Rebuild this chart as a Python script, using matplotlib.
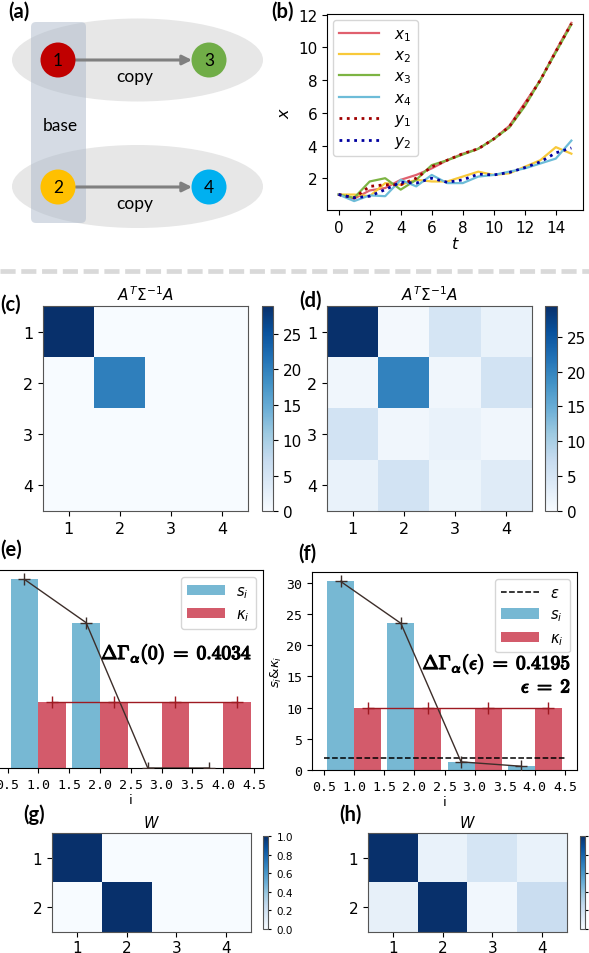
import numpy as np
import matplotlib
matplotlib.use('Agg')
import matplotlib.pyplot as plt
import matplotlib.patheffects as pe
from matplotlib.patches import Ellipse, FancyBboxPatch, Circle
from matplotlib.lines import Line2D

# ---------------- data ----------------
t = list(range(16))
x1 = [1.0, 0.75, 1.25, 1.4, 1.9, 2.2, 2.6, 3.1, 3.5, 3.8, 4.4, 5.2, 6.6, 8.0, 9.8, 11.5]
x2 = [1.0, 1.0, 0.9, 1.7, 1.6, 1.9, 1.8, 1.8, 2.1, 2.4, 2.2, 2.3, 2.7, 3.1, 3.9, 3.5]
x3 = [1.0, 0.8, 1.8, 2.0, 1.3, 1.9, 2.8, 3.1, 3.45, 3.8, 4.4, 5.1, 6.4, 8.0, 9.7, 11.4]
x4 = [1.0, 0.6, 0.95, 0.9, 1.9, 1.5, 2.2, 1.7, 1.7, 2.1, 2.2, 2.4, 2.6, 2.9, 3.2, 4.3]
y1 = [1.0, 0.8, 1.5, 1.6, 1.6, 2.0, 2.7, 3.1, 3.5, 3.8, 4.4, 5.15, 6.5, 8.0, 9.75, 11.45]
y2 = [1.0, 0.8, 0.9, 1.3, 1.75, 1.7, 2.0, 1.75, 1.9, 2.25, 2.2, 2.35, 2.65, 3.0, 3.55, 3.85]

node_labels = ['1', '2', '3', '4']
M_c = [[28.9, 0, 0, 0],
       [0, 20.0, 0, 0],
       [0, 0, 0, 0],
       [0, 0, 0, 0]]
M_d = [[29.4, 0.5, 5.0, 2.0],
       [1.0, 20.0, 1.0, 5.5],
       [5.5, 1.0, 2.0, 1.0],
       [2.0, 5.5, 1.5, 3.5]]

idx = [1, 2, 3, 4]
s_e = [30.1, 23.2, 0.0, 0.0]
k_e = [10.5, 10.5, 10.5, 10.5]
s_f = [30.2, 23.5, 1.3, 0.6]
k_f = [10.0, 10.0, 10.0, 10.0]
eps = 2
bar_xticks = [0.5, 1.0, 1.5, 2.0, 2.5, 3.0, 3.5, 4.0, 4.5]

W_g = [[1.0, 0.0, 0.0, 0.0],
       [0.0, 1.0, 0.0, 0.0]]
W_h = [[1.0, 0.07, 0.17, 0.07],
       [0.08, 1.0, 0.03, 0.23]]

# ---------------- figure ----------------
FW, FH = 589, 954
fig = plt.figure(figsize=(FW / 100, FH / 100), dpi=100)

def add_ax(x0, y0, x1_, y1_):
    return fig.add_axes([x0 / FW, 1 - y1_ / FH, (x1_ - x0) / FW, (y1_ - y0) / FH])

LBL = dict(fontsize=14.5, fontweight='bold', family=['Lato', 'DejaVu Sans'],
           ha='center', va='center')

def panel_label(x, y, s):
    fig.text(x / FW, 1 - y / FH, s, **LBL)

# ---------------- (a) ----------------
axa = add_ax(0, 0, 290, 250)
axa.set_xlim(0, 290)
axa.set_ylim(250, 0)
axa.axis('off')
for cy in (61, 187.5):
    axa.add_patch(Ellipse((137.5, cy), 251, 83, fc='#e7e7e7', ec='none', zorder=1))
axa.add_patch(FancyBboxPatch((36, 28), 45, 191, boxstyle='round,pad=5',
                             fc='#acb9ca', ec='none', alpha=0.5, zorder=2))
node_pos = {'1': (58, 61), '3': (209, 61), '2': (58, 188), '4': (209, 188)}
node_col = {'1': '#c00000', '3': '#70ad47', '2': '#ffc000', '4': '#00b0f0'}
for n in node_labels:
    cx, cy = node_pos[n]
    axa.add_patch(Circle((cx, cy), 17.5, fc=node_col[n], ec='none', zorder=4))
    axa.text(cx, cy, n, ha='center', va='center', fontsize=12.5,
             family=['Lato', 'DejaVu Sans'], zorder=5)
for cy in (61, 188):
    axa.annotate('', xy=(192, cy), xytext=(76, cy),
                 arrowprops=dict(arrowstyle='-|>', color='#808080', lw=2.2,
                                 mutation_scale=14, shrinkA=0, shrinkB=0), zorder=3)
    axa.text(135, cy + 16, 'copy', ha='center', va='center', fontsize=12.5,
             family=['Lato', 'DejaVu Sans'], zorder=5)
axa.text(60, 126, 'base', ha='center', va='center', fontsize=12.5,
         family=['Lato', 'DejaVu Sans'], zorder=5)
panel_label(19, 12, '(a)')

# ---------------- (b) ----------------
axb = add_ax(327, 15, 583, 211)
axb.plot(t, x1, color='#e0606e', lw=1.6, label='$x_1$')
axb.plot(t, x2, color='#f8c93a', lw=1.6, label='$x_2$')
axb.plot(t, x3, color='#7db443', lw=1.6, label='$x_3$')
axb.plot(t, x4, color='#6dbcd8', lw=1.6, label='$x_4$')
axb.plot(t, y1, color='#a00000', lw=2, ls=':', label='$y_1$')
axb.plot(t, y2, color='#0000a0', lw=2, ls=':', label='$y_2$')
axb.set_xticks(range(0, 15, 2))
axb.set_yticks(range(2, 13, 2))
axb.tick_params(labelsize=11)
axb.set_xlabel('$t$', fontsize=11.5, labelpad=0)
axb.set_ylabel('$x$', fontsize=11.5)
axb.legend(loc='upper left', fontsize=11, handlelength=2.6, handletextpad=1.0,
           labelspacing=0.3, borderaxespad=0.4)
panel_label(283, 12, '(b)')

# ---------------- separator ----------------
fig.add_artist(Line2D([0, 1], [1 - 272 / FH, 1 - 272 / FH], transform=fig.transFigure,
                      color='#d9d9d9', lw=3.4, ls=(0, (3.2, 1.2)), solid_capstyle='butt',
                      dash_capstyle='butt'))

# ---------------- (c), (d) ----------------
def heat(box, cbox, data, vmax, label, lpos):
    ax = add_ax(*box)
    im = ax.imshow(np.array(data), cmap='Blues', vmin=0, vmax=vmax, aspect='auto')
    ax.set_xticks(range(4))
    ax.set_xticklabels(node_labels)
    ax.set_yticks(range(4))
    ax.set_yticklabels(node_labels)
    ax.tick_params(labelsize=11.5)
    ax.set_title(r'$A^T\Sigma^{-1}A$', fontsize=11, pad=4)
    for sp in ax.spines.values():
        sp.set_color('#555555')
    cax = add_ax(*cbox)
    cb = fig.colorbar(im, cax=cax)
    cb.set_ticks([0, 5, 10, 15, 20, 25])
    cb.ax.tick_params(labelsize=11)
    cb.outline.set_edgecolor('#555555')
    panel_label(lpos[0], lpos[1], label)

heat((43, 307, 248, 512), (262, 307, 273, 512), M_c, 28.9, '(c)', (11, 305))
heat((327, 307, 532, 512), (545, 307, 557, 512), M_d, 29.4, '(d)', (310, 301))

# ---------------- (e), (f) ----------------
S_COL = '#77b8d3'
K_COL = '#d35b6b'
MONO = ['DejaVu Sans Mono']
BOLD = [pe.withStroke(linewidth=0.9, foreground='black')]

def bars(box, s, k, eps_line, txt_lines, txt_right, txt_y, show_y=True):
    ax = add_ax(*box)
    ii = np.array(idx, dtype=float)
    bs = ax.bar(ii - 0.45, s, width=0.45, align='edge', color=S_COL)
    bk = ax.bar(ii, k, width=0.45, align='edge', color=K_COL)
    handles = [bs, bk]
    labels = [r'$s_i$', r'$\kappa_i$']
    if eps_line is not None:
        ax.hlines(eps_line, 0.5, 4.5, colors='k', linestyles='--', lw=1.1, zorder=3)
        handles = [Line2D([], [], color='k', ls='--', lw=1.1)] + handles
        labels = [r'$\epsilon$'] + labels
    ax.plot(ii - 0.225, s, color='#3d2e2a', lw=1.0, marker='+', ms=8, mew=1.0, zorder=4)
    ax.plot(ii + 0.225, k, color='#9e1a22', lw=1.0, marker='+', ms=8, mew=1.0, zorder=4)
    ax.legend(handles, labels, loc='upper right', fontsize=10.5, handlelength=2.6,
              labelspacing=0.45, borderaxespad=0.5)
    ax.set_xticks(bar_xticks)
    ax.set_xticklabels([f'{v:.1f}' for v in bar_xticks], family=MONO, fontsize=9.5)
    ax.set_yticks([0, 5, 10, 15, 20, 25, 30])
    if show_y:
        for lab in ax.get_yticklabels():
            lab.set_family(MONO)
            lab.set_fontsize(9.5)
    else:
        ax.tick_params(axis='y', labelleft=False)
    ax.set_xlabel('i', fontsize=9.5, labelpad=2)
    for line, y in zip(txt_lines, txt_y):
        fig.text(txt_right / FW, 1 - y / FH, line, ha='right', va='center',
                 fontsize=14, math_fontfamily='cm', path_effects=BOLD)
    return ax

axe = bars((-1.4, 571, 263, 769), s_e, k_e, None,
           [r'$\mathbf{\Delta\Gamma}_{\alpha}\mathbf{(0)}\;=\;\mathbf{0.4034}$'], 252, [655],
           show_y=False)
panel_label(11, 550, '(e)')

axf = bars((312, 573, 577, 771), s_f, k_f, eps,
           [r'$\mathbf{\Delta\Gamma}_{\alpha}\mathbf{(}\epsilon\mathbf{)}\;=\;\mathbf{0.4195}$',
            r'$\epsilon\;=\;\mathbf{2}$'], 571, [665, 688])
axf.set_ylabel(r'$s_i$&$\kappa_i$', fontsize=9.5, labelpad=2)
panel_label(307, 554, '(f)')

# ---------------- (g), (h) ----------------
def wheat(box, cbox, data, label, lpos, show_cb_labels=True):
    ax = add_ax(*box)
    im = ax.imshow(np.array(data), cmap='Blues', vmin=0, vmax=1.0, aspect='auto')
    ax.set_xticks(range(4))
    ax.set_xticklabels(node_labels)
    ax.set_yticks(range(2))
    ax.set_yticklabels(node_labels[:2])
    ax.tick_params(labelsize=11)
    ax.tick_params(axis='x', pad=2)
    ax.set_title('$W$', fontsize=10.5, pad=4)
    for sp in ax.spines.values():
        sp.set_color('#555555')
    cax = add_ax(*cbox)
    cb = fig.colorbar(im, cax=cax)
    cb.set_ticks([0.0, 0.2, 0.4, 0.6, 0.8, 1.0])
    cb.ax.tick_params(labelsize=7.5, length=2.5, labelright=show_cb_labels)
    cb.outline.set_edgecolor('#555555')
    panel_label(lpos[0], lpos[1], label)

wheat((52, 834, 251, 933), (263, 837, 268, 930), W_g, '(g)', (34, 815))
wheat((368, 834, 567, 933), (580, 837, 585, 930), W_h, '(h)', (350, 815),
      show_cb_labels=False)

fig.savefig('out.png', dpi=100)
